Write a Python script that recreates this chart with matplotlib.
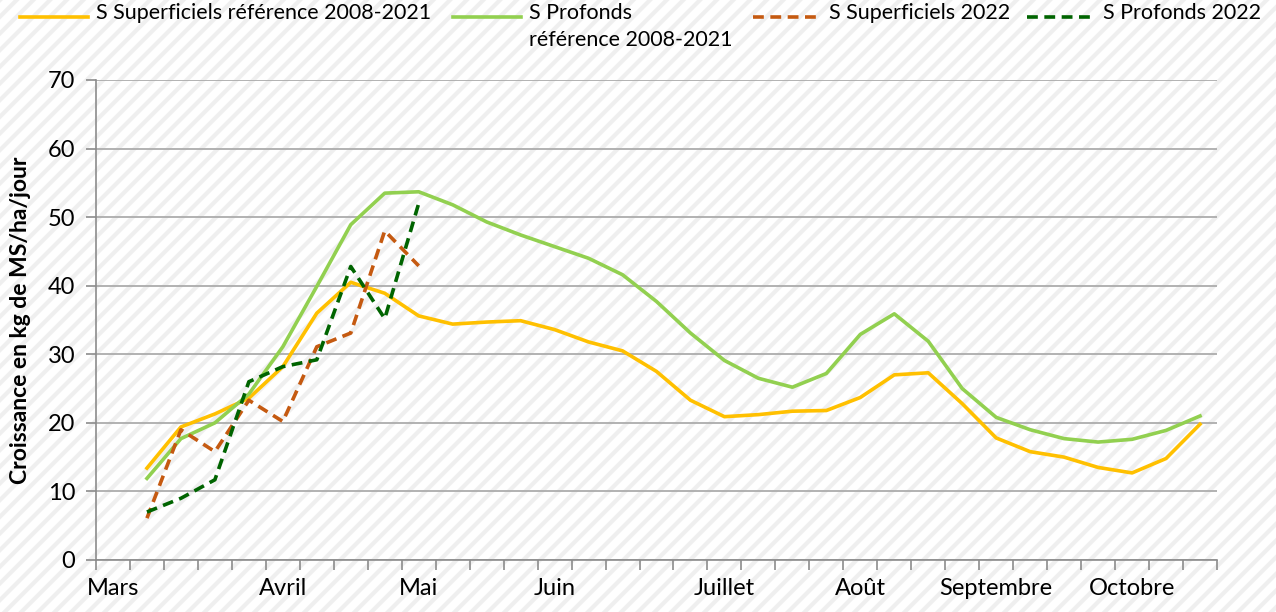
import matplotlib.pyplot as plt
from matplotlib.lines import Line2D
from matplotlib.patches import Rectangle
from matplotlib.ticker import FixedLocator, FixedFormatter

plt.rcParams['font.family'] = ['Lato', 'DejaVu Sans']
plt.rcParams['hatch.linewidth'] = 3.0

# semaines de mars a octobre (33 categories, la premiere est vide)
n_sem = 33
mois = ['Mars', 'Avril', 'Mai', 'Juin', 'Juillet', 'Août', 'Septembre', 'Octobre']
pos_mois = [0, 5, 9, 13, 18, 22, 26, 30]

sem_ref = list(range(1, 33))
superf_ref = [13.4, 19.4, 21.3, 23.6, 28.2, 36.0, 40.5, 38.9, 35.6, 34.4, 34.7, 34.9,
              33.6, 31.8, 30.5, 27.5, 23.3, 20.9, 21.2, 21.7, 21.8, 23.7, 27.0, 27.3,
              22.8, 17.8, 15.8, 15.0, 13.5, 12.7, 14.8, 19.8]
prof_ref = [11.9, 17.7, 20.0, 24.2, 31.1, 39.9, 48.9, 53.5, 53.7, 51.8, 49.3, 47.4,
            45.7, 44.0, 41.6, 37.7, 33.1, 29.1, 26.5, 25.2, 27.2, 32.9, 35.9, 31.9,
            25.0, 20.8, 19.0, 17.7, 17.2, 17.6, 18.9, 21.0]

sem_2022 = list(range(1, 10))
superf_2022 = [6.1, 19.0, 15.8, 23.3, 20.2, 31.1, 33.1, 48.0, 42.9]
prof_2022 = [7.0, 9.0, 11.7, 26.0, 28.2, 29.2, 42.8, 35.2, 52.0]

series = [
    ('S Superficiels référence 2008-2021', sem_ref, superf_ref, '#FFC000', '-'),
    ('S Profonds\nréférence 2008-2021', sem_ref, prof_ref, '#92D050', '-'),
    ('S Superficiels 2022', sem_2022, superf_2022, '#C55A11', '--'),
    ('S Profonds 2022', sem_2022, prof_2022, '#006400', '--'),
]

W, H = 1276, 612
fig = plt.figure(figsize=(W / 100, H / 100), dpi=100)
fig.patch.set_facecolor('white')
# fond raye en diagonale
fond = Rectangle((0, 0), 1, 1, transform=fig.transFigure, facecolor='white',
                 edgecolor='#efefef', hatch='//', lw=0, zorder=-10)
fig.add_artist(fond)

ax = fig.add_axes([96 / W, 1 - 560 / H, (1217 - 96) / W, (560 - 80) / H])
ax.set_facecolor('none')

gris = '#8c8c8c'
for nom, x, y, coul, style in series:
    if style == '--':
        ax.plot(x, y, color=coul, lw=2.6, dashes=(3, 1.8))
    else:
        ax.plot(x, y, color=coul, lw=2.6)

ax.set_xlim(-0.5, n_sem - 0.5)
ax.set_ylim(0, 70)
ax.set_yticks(range(0, 71, 10))
ax.grid(axis='y', color='#a6a6a6', lw=1.2)
ax.set_axisbelow(True)

ax.xaxis.set_major_locator(FixedLocator(pos_mois))
ax.xaxis.set_major_formatter(FixedFormatter(mois))
ax.xaxis.set_minor_locator(FixedLocator([i - 0.5 for i in range(n_sem + 1)]))
ax.tick_params(axis='x', which='major', length=0, pad=13, labelsize=17)
ax.tick_params(axis='x', which='minor', length=7, color=gris, width=1.2)
ax.tick_params(axis='y', length=7, color=gris, width=1.2, pad=8, labelsize=17)

for s in ['top', 'right']:
    ax.spines[s].set_visible(False)
for s in ['left', 'bottom']:
    ax.spines[s].set_color(gris)
    ax.spines[s].set_linewidth(1.2)

ax.set_ylabel('Croissance en kg de MS/ha/jour', fontsize=16.5, fontweight='bold', labelpad=12)

# legende en haut, placee comme dans Excel
leg_x = [20, 453, 753, 1027]
for (nom, x, y, coul, style), x0 in zip(series, leg_x):
    yl = 1 - 17 / H
    ln = Line2D([x0 / W, (x0 + 68) / W], [yl, yl], transform=fig.transFigure,
                color=coul, lw=2.6)
    if style == '--':
        ln.set_dashes((3, 1.8))
    fig.add_artist(ln)
    fig.text((x0 + 76) / W, 1 - 3 / H, nom, fontsize=15.5, va='top', ha='left',
             linespacing=1.45)

fig.savefig('out.png', dpi=100)
